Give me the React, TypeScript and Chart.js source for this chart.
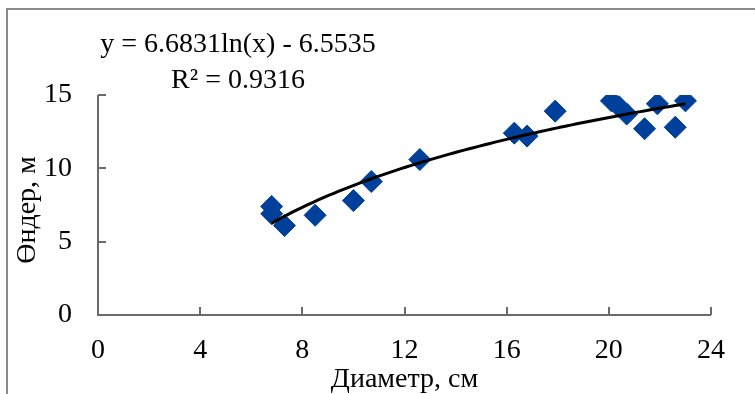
import React, { useEffect, useRef } from "react";
import { Chart, registerables } from "chart.js";

Chart.register(...registerables);

// Data
const diameters = [6.8, 6.8, 7.3, 8.5, 10.0, 10.7, 12.6, 16.3, 16.8, 17.9, 20.1, 20.4, 20.7, 21.4, 21.9, 22.6, 23.0];
const heights = [7.4, 6.9, 6.1, 6.8, 7.8, 9.1, 10.6, 12.4, 12.2, 13.9, 14.6, 14.2, 13.7, 12.7, 14.4, 12.8, 14.6];
const xTicks = [0, 4, 8, 12, 16, 20, 24];
const yTicks = [0, 5, 10, 15];

// Logarithmic trendline shown on the chart
const trendA = 6.6831;
const trendB = -6.5535;
const equationText = "y = 6.6831ln(x) - 6.5535";
const r2Text = "R² = 0.9316";

const xTitle = "Диаметр, см";
const yTitle = "Өндер, м";

const FONT = '"Liberation Serif", "Times New Roman", serif';

function trendPoints() {
  const minX = Math.min(...diameters);
  const maxX = Math.max(...diameters);
  const pts: { x: number; y: number }[] = [];
  const n = 80;
  for (let i = 0; i <= n; i++) {
    const x = minX + ((maxX - minX) * i) / n;
    pts.push({ x, y: trendA * Math.log(x) + trendB });
  }
  return pts;
}

const framePlugin = {
  id: "frame",
  beforeDraw(chart: any) {
    const ctx = chart.ctx;
    ctx.save();
    ctx.fillStyle = "#ffffff";
    ctx.fillRect(0, 0, chart.width, chart.height);
    ctx.restore();
  },
  beforeDatasetsDraw(chart: any) {
    const ctx = chart.ctx;
    const { left, right, top, bottom } = chart.chartArea;
    const xs = chart.scales.x;
    const ys = chart.scales.y;
    ctx.save();
    // outer chart frame
    ctx.strokeStyle = "#8a8a8a";
    ctx.lineWidth = 2;
    ctx.beginPath();
    ctx.moveTo(7, chart.height);
    ctx.lineTo(7, 9);
    ctx.lineTo(chart.width, 9);
    ctx.stroke();
    // axes
    ctx.strokeStyle = "#6a6a6a";
    ctx.lineWidth = 2;
    ctx.beginPath();
    ctx.moveTo(left, top);
    ctx.lineTo(left, bottom);
    ctx.lineTo(right, bottom);
    for (const v of xTicks) {
      const px = Math.round(xs.getPixelForValue(v));
      ctx.moveTo(px, bottom);
      ctx.lineTo(px, bottom - 8);
    }
    for (const v of yTicks) {
      const py = Math.round(ys.getPixelForValue(v));
      ctx.moveTo(left, py);
      ctx.lineTo(left + 8, py);
    }
    ctx.stroke();
    ctx.restore();
  },
  afterDraw(chart: any) {
    const ctx = chart.ctx;
    const { left, top, bottom } = chart.chartArea;
    ctx.save();
    ctx.fillStyle = "#000000";
    ctx.font = `28px ${FONT}`;
    ctx.textAlign = "center";
    ctx.textBaseline = "alphabetic";
    ctx.fillText(equationText, left + 140, top - 43);
    ctx.fillText(r2Text, left + 140, top - 7);
    // y axis title
    ctx.translate(28, (top + bottom) / 2 + 5);
    ctx.rotate(-Math.PI / 2);
    ctx.textBaseline = "middle";
    ctx.fillText(yTitle, 0, 0);
    ctx.restore();
  },
};

export default function App() {
  const canvasRef = useRef<HTMLCanvasElement | null>(null);

  useEffect(() => {
    const canvas = canvasRef.current;
    if (!canvas) return;
    const chart = new Chart(canvas, {
      type: "scatter",
      data: {
        datasets: [
          {
            label: "trend",
            data: trendPoints(),
            showLine: true,
            borderColor: "#000000",
            borderWidth: 3,
            pointRadius: 0,
            pointHoverRadius: 0,
            fill: false,
            tension: 0,
            order: 0,
          },
          {
            label: "data",
            data: diameters.map((x, i) => ({ x, y: heights[i] })),
            pointStyle: "rectRot",
            pointRadius: 11,
            backgroundColor: "#00409A",
            borderColor: "#00409A",
            borderWidth: 1,
            order: 1,
          },
        ],
      },
      options: {
        responsive: false,
        animation: false,
        devicePixelRatio: 1,
        layout: { padding: { left: 0, top: 95, right: 44, bottom: 0 } },
        plugins: {
          legend: { display: false },
          tooltip: { enabled: false },
          title: { display: false },
        },
        scales: {
          x: {
            type: "linear",
            min: 0,
            max: 24,
            afterFit: (s: any) => {
              s.height = 79;
            },
            afterBuildTicks: (s: any) => {
              s.ticks = xTicks.map((v) => ({ value: v }));
            },
            ticks: {
              stepSize: 4,
              autoSkip: false,
              maxRotation: 0,
              padding: 19,
              color: "#000000",
              font: { family: FONT, size: 28 },
            },
            grid: { display: false, drawTicks: false, tickLength: 0 },
            border: { display: false },
            title: {
              display: true,
              text: xTitle,
              color: "#000000",
              font: { family: FONT, size: 28, lineHeight: 1 },
              padding: { top: 0, bottom: 0 },
            },
          },
          y: {
            type: "linear",
            min: 0,
            max: 15,
            afterFit: (s: any) => {
              s.width = 98;
            },
            afterBuildTicks: (s: any) => {
              s.ticks = yTicks.map((v) => ({ value: v }));
            },
            ticks: {
              stepSize: 5,
              padding: 26,
              color: "#000000",
              font: { family: FONT, size: 28 },
            },
            grid: { display: false, drawTicks: false, tickLength: 0 },
            border: { display: false },
            title: { display: false },
          },
        },
      },
      plugins: [framePlugin],
    });
    return () => chart.destroy();
  }, []);

  return (
    <div style={{ position: "absolute", left: 0, top: 0, width: 755, height: 394, background: "#fff" }}>
      <canvas ref={canvasRef} width={755} height={394} style={{ display: "block" }} />
    </div>
  );
}
